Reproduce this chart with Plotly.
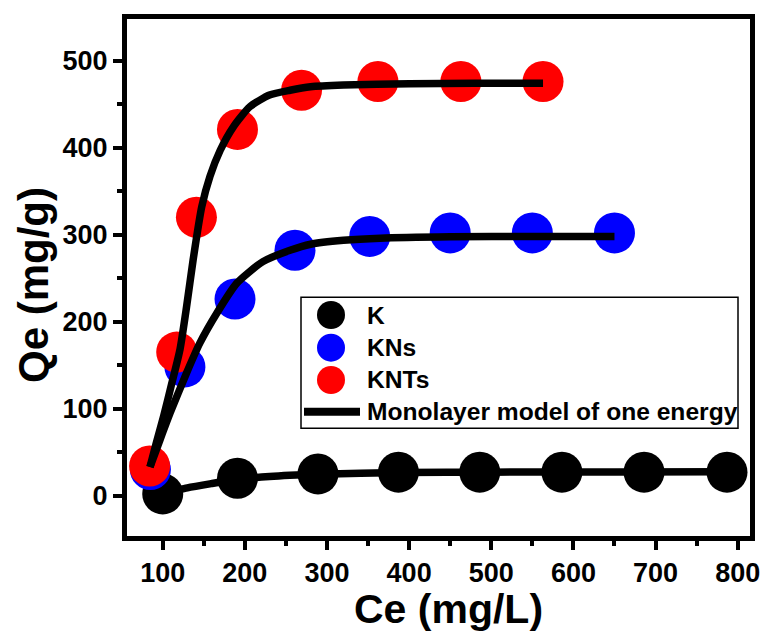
import plotly.graph_objects as go

# ---------------- data ----------------
K_x = [100, 191, 289, 387, 486, 586, 686, 787]
K_y = [2, 20, 25, 27, 27, 27, 27, 27]

KNs_x = [85, 127, 188, 261, 352, 450, 550, 650]
KNs_y = [30, 148, 226, 282, 298, 302, 302, 302]

KNTs_x = [84, 117, 141, 191, 269, 362, 463, 563]
KNTs_y = [34, 165, 320, 421, 466, 476, 476, 476]

# Monolayer model of one energy (fitted curves)
fitK_x = [100, 130, 160, 190, 230, 290, 390, 500, 650, 787]
fitK_y = [2, 9, 14, 18.5, 22, 24.5, 26.5, 27, 27.3, 27.5]

fitKNs_x = [84.5, 97, 109, 129, 145, 166, 190, 222, 255, 280, 320, 365, 450, 550, 650]
fitKNs_y = [33, 65, 95, 141, 175, 210, 244, 269, 282, 289, 293.5, 296, 297.5, 298, 298]

fitKNTs_x = [84.5, 92, 101, 111, 121, 129, 137, 147.5, 157.5, 170, 186, 206, 230, 255, 280, 320, 400, 480, 563]
fitKNTs_y = [33, 60, 91, 129, 168, 217, 271, 332, 367, 397, 424, 447, 460.5, 466, 470, 472, 473.5, 474, 474]

x_ticks = [100, 200, 300, 400, 500, 600, 700, 800]
y_ticks = [0, 100, 200, 300, 400, 500]

legend_names = ["K", "KNs", "KNTs", "Monolayer model of one energy"]
colors = ["#000000", "#0000FF", "#FF0000"]

# ---------------- layout geometry ----------------
W, H = 761, 636
ML, MR, MT, MB = 127, 11, 19, 100
PW, PH = W - ML - MR, H - MT - MB
FONT = "Liberation Sans, Arial, sans-serif"


def px2paper(px, py):
    return (px - ML) / PW, (H - MB - py) / PH


fig = go.Figure()

for xs, ys, c, n in zip([K_x, KNs_x, KNTs_x], [K_y, KNs_y, KNTs_y], colors, legend_names[:3]):
    fig.add_trace(go.Scatter(x=xs, y=ys, mode="markers", name=n, showlegend=False,
                             marker=dict(size=41, color=c, line=dict(width=0))))

for xs, ys in [(fitK_x, fitK_y), (fitKNs_x, fitKNs_y), (fitKNTs_x, fitKNTs_y)]:
    fig.add_trace(go.Scatter(x=xs, y=ys, mode="lines", name=legend_names[3], showlegend=False,
                             line=dict(color="black", width=7.5, shape="spline", smoothing=0.6)))

axis_common = dict(
    showline=True, linewidth=5, linecolor="black", mirror=True,
    ticks="outside", ticklen=9, tickwidth=3.5, tickcolor="black",
    showgrid=False, zeroline=False, automargin=False,
    tickfont=dict(family=FONT, size=27, color="black", weight="bold"),
)

fig.update_xaxes(range=[56.5, 815], tickvals=x_ticks,
                 minor=dict(dtick=50, tick0=0, ticks="outside", ticklen=5, tickwidth=3.5, tickcolor="black"),
                 **axis_common)
fig.update_yaxes(range=[-46.4, 547.9], tickvals=y_ticks,
                 minor=dict(dtick=50, tick0=0, ticks="outside", ticklen=5, tickwidth=3.5, tickcolor="black"),
                 **axis_common)

shapes = []
annotations = []

# legend box
x0, y0 = px2paper(301, 428.3)
x1, y1 = px2paper(738, 297.3)
shapes.append(dict(type="rect", xref="paper", yref="paper", x0=x0, y0=y0, x1=x1, y1=y1,
                   line=dict(color="black", width=1.5), fillcolor="white", layer="above"))

rows_y = [315, 347.7, 380, 411.7]
for i, c in enumerate(colors):
    cx, cy = 331, rows_y[i]
    a0, b0 = px2paper(cx - 14, cy + 14)
    a1, b1 = px2paper(cx + 14, cy - 14)
    shapes.append(dict(type="circle", xref="paper", yref="paper", x0=a0, y0=b0, x1=a1, y1=b1,
                       fillcolor=c, line=dict(width=0), layer="above"))
la, lb = px2paper(304, rows_y[3])
lc, _ = px2paper(360, rows_y[3])
shapes.append(dict(type="line", xref="paper", yref="paper", x0=la, y0=lb, x1=lc, y1=lb,
                   line=dict(color="black", width=8), layer="above"))

for i, name in enumerate(legend_names):
    tx, ty = px2paper(365, rows_y[i])
    annotations.append(dict(text=name, xref="paper", yref="paper", x=tx, y=ty,
                            xanchor="left", yanchor="middle", showarrow=False,
                            font=dict(family=FONT, size=24.6, color="black", weight="bold")))

# axis titles
tx, ty = px2paper(448, 609)
annotations.append(dict(text="Ce (mg/L)", xref="paper", yref="paper", x=tx, y=ty,
                        xanchor="center", yanchor="middle", showarrow=False,
                        font=dict(family=FONT, size=41, color="black", weight="bold")))
tx, ty = px2paper(34, 285)
annotations.append(dict(text="Qe (mg/g)", xref="paper", yref="paper", x=tx, y=ty, textangle=-90,
                        xanchor="center", yanchor="middle", showarrow=False,
                        font=dict(family=FONT, size=42, color="black", weight="bold")))

fig.update_layout(
    width=W, height=H,
    margin=dict(l=ML, r=MR, t=MT, b=MB, autoexpand=False),
    paper_bgcolor="white", plot_bgcolor="white",
    showlegend=False,
    shapes=shapes, annotations=annotations,
)

fig.write_html("out.html", config={"displayModeBar": False},
               post_script="document.body.style.margin='0';document.body.style.padding='0';")
